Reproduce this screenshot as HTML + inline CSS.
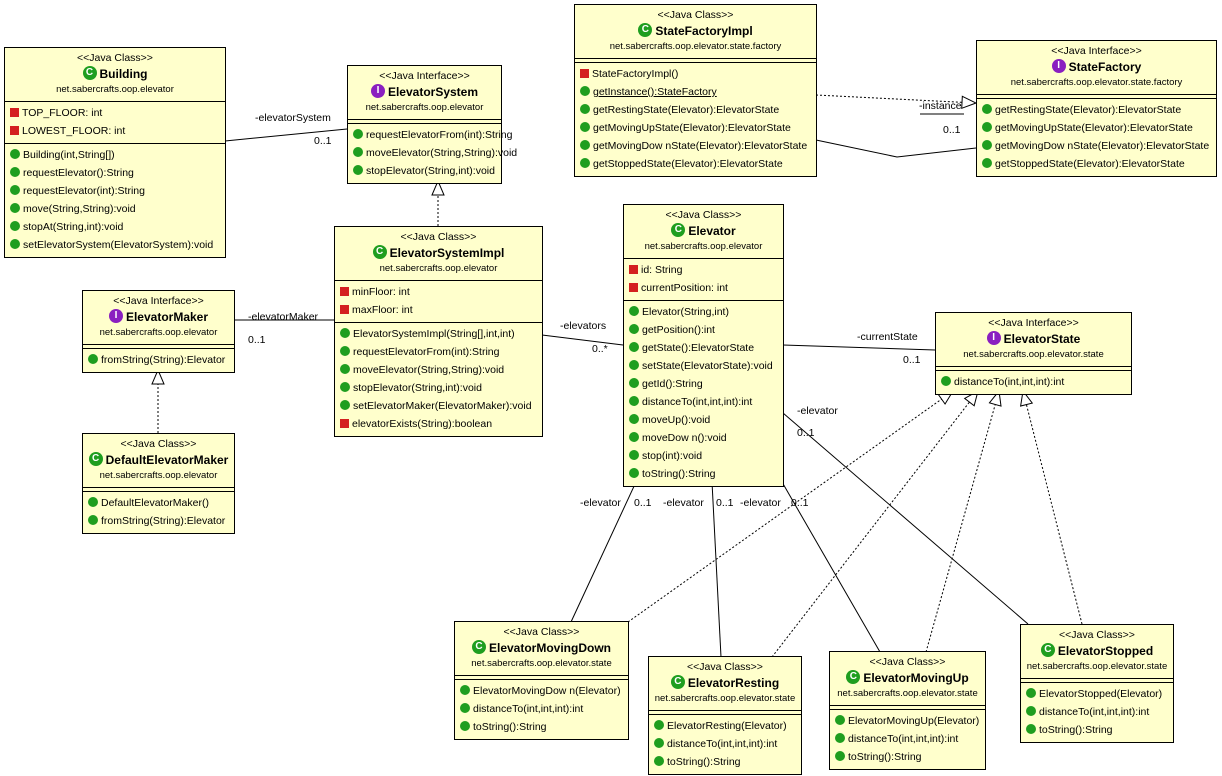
<!DOCTYPE html>
<html><head><meta charset="utf-8"><style>
body{margin:0;width:1222px;height:776px;background:#fff;position:relative;overflow:hidden;font-family:"Liberation Sans",sans-serif;}
.b{position:absolute;background:#ffffcc;border:1px solid #000;font-size:10.5px;color:#000;box-sizing:border-box;}
.h{text-align:center;padding:2px 0 3px;border-bottom:1px solid #000;}
.h div{height:16px;line-height:16px;white-space:nowrap;}
.h .n{font-weight:bold;font-size:12px;}
.h .p{font-size:9.5px;}
.s{padding:2px 0 3px;border-bottom:1px solid #000;}
.s:last-child{border-bottom:none;}
.e{height:3px;padding:0;}
.r{height:18px;line-height:18px;padding-left:5px;white-space:nowrap;}
.g,.q,.ic,.ii{display:inline-block;vertical-align:middle;margin-right:3px;}
.g{width:10px;height:10px;border-radius:50%;background:#1f9e1f;margin-top:-2px;}
.q{width:9px;height:9px;background:#d42020;margin-top:-2px;}
.ic,.ii{width:14px;height:14px;border-radius:50%;color:#fff;font-size:10px;line-height:14px;text-align:center;font-weight:bold;margin-top:-3px;}
.ic{background:#1f9e1f}.ii{background:#8a1fc0}
.l{position:absolute;font-size:10.5px;white-space:nowrap;}
</style></head><body>
<svg width="1222" height="776" style="position:absolute;left:0;top:0">
<defs><marker id="t" markerWidth="16" markerHeight="14" refX="15" refY="7" orient="auto" markerUnits="userSpaceOnUse"><path d="M1,1 L15,7 L1,13 Z" fill="#fff" stroke="#000"/></marker></defs>
<g stroke="#000" fill="none" stroke-width="1">
<line x1="225" y1="141" x2="347" y2="129"/>
<line x1="334" y1="320" x2="234" y2="320"/>
<line x1="542" y1="335" x2="623" y2="345"/>
<line x1="783" y1="345" x2="935" y2="350"/>
<polyline points="816,140 897,157 976,148"/>
<line x1="636" y1="482" x2="571" y2="622"/>
<line x1="712" y1="482" x2="721" y2="657"/>
<line x1="782" y1="482" x2="880" y2="652"/>
<line x1="783" y1="413" x2="1028" y2="624"/>
<g stroke-dasharray="2,2">
<line x1="438" y1="226" x2="438" y2="181" marker-end="url(#t)"/>
<line x1="158" y1="433" x2="158" y2="370" marker-end="url(#t)"/>
<line x1="816" y1="95" x2="976" y2="103" marker-end="url(#t)"/>
<line x1="628" y1="622" x2="953" y2="391" marker-end="url(#t)"/>
<line x1="772" y1="657" x2="978" y2="391" marker-end="url(#t)"/>
<line x1="926" y1="652" x2="999" y2="391" marker-end="url(#t)"/>
<line x1="1082" y1="624" x2="1023" y2="391" marker-end="url(#t)"/>
</g>
<line x1="920" y1="114" x2="964" y2="114"/>
</g></svg>

<div class="l" style="left:255px;top:112px">-elevatorSystem</div>
<div class="l" style="left:314px;top:135px">0..1</div>
<div class="l" style="left:248px;top:311px">-elevatorMaker</div>
<div class="l" style="left:248px;top:334px">0..1</div>
<div class="l" style="left:560px;top:320px">-elevators</div>
<div class="l" style="left:592px;top:343px">0..*</div>
<div class="l" style="left:857px;top:331px">-currentState</div>
<div class="l" style="left:903px;top:354px">0..1</div>
<div class="l" style="left:919px;top:100px">-instance</div>
<div class="l" style="left:943px;top:124px">0..1</div>
<div class="l" style="left:580px;top:497px">-elevator</div>
<div class="l" style="left:634px;top:497px">0..1</div>
<div class="l" style="left:663px;top:497px">-elevator</div>
<div class="l" style="left:716px;top:497px">0..1</div>
<div class="l" style="left:740px;top:497px">-elevator</div>
<div class="l" style="left:791px;top:497px">0..1</div>
<div class="l" style="left:797px;top:405px">-elevator</div>
<div class="l" style="left:797px;top:427px">0..1</div>

<div class="b" style="left:4px;top:47px;width:222px">
<div class="h"><div>&lt;&lt;Java Class&gt;&gt;</div><div class="n"><span class="ic">C</span>Building</div><div class="p">net.sabercrafts.oop.elevator</div></div>
<div class="s"><div class="r"><span class="q"></span>TOP_FLOOR: int</div><div class="r"><span class="q"></span>LOWEST_FLOOR: int</div></div>
<div class="s"><div class="r"><span class="g"></span>Building(int,String[])</div><div class="r"><span class="g"></span>requestElevator():String</div><div class="r"><span class="g"></span>requestElevator(int):String</div><div class="r"><span class="g"></span>move(String,String):void</div><div class="r"><span class="g"></span>stopAt(String,int):void</div><div class="r"><span class="g"></span>setElevatorSystem(ElevatorSystem):void</div></div>
</div>

<div class="b" style="left:347px;top:65px;width:155px">
<div class="h"><div>&lt;&lt;Java Interface&gt;&gt;</div><div class="n"><span class="ii">I</span>ElevatorSystem</div><div class="p">net.sabercrafts.oop.elevator</div></div>
<div class="s e"></div>
<div class="s"><div class="r"><span class="g"></span>requestElevatorFrom(int):String</div><div class="r"><span class="g"></span>moveElevator(String,String):void</div><div class="r"><span class="g"></span>stopElevator(String,int):void</div></div>
</div>

<div class="b" style="left:574px;top:4px;width:243px">
<div class="h"><div>&lt;&lt;Java Class&gt;&gt;</div><div class="n"><span class="ic">C</span>StateFactoryImpl</div><div class="p">net.sabercrafts.oop.elevator.state.factory</div></div>
<div class="s e"></div>
<div class="s"><div class="r"><span class="q"></span>StateFactoryImpl()</div><div class="r"><span class="g"></span><u>getInstance():StateFactory</u></div><div class="r"><span class="g"></span>getRestingState(Elevator):ElevatorState</div><div class="r"><span class="g"></span>getMovingUpState(Elevator):ElevatorState</div><div class="r"><span class="g"></span>getMovingDow nState(Elevator):ElevatorState</div><div class="r"><span class="g"></span>getStoppedState(Elevator):ElevatorState</div></div>
</div>

<div class="b" style="left:976px;top:40px;width:241px">
<div class="h"><div>&lt;&lt;Java Interface&gt;&gt;</div><div class="n"><span class="ii">I</span>StateFactory</div><div class="p">net.sabercrafts.oop.elevator.state.factory</div></div>
<div class="s e"></div>
<div class="s"><div class="r"><span class="g"></span>getRestingState(Elevator):ElevatorState</div><div class="r"><span class="g"></span>getMovingUpState(Elevator):ElevatorState</div><div class="r"><span class="g"></span>getMovingDow nState(Elevator):ElevatorState</div><div class="r"><span class="g"></span>getStoppedState(Elevator):ElevatorState</div></div>
</div>

<div class="b" style="left:334px;top:226px;width:209px">
<div class="h"><div>&lt;&lt;Java Class&gt;&gt;</div><div class="n"><span class="ic">C</span>ElevatorSystemImpl</div><div class="p">net.sabercrafts.oop.elevator</div></div>
<div class="s"><div class="r"><span class="q"></span>minFloor: int</div><div class="r"><span class="q"></span>maxFloor: int</div></div>
<div class="s"><div class="r"><span class="g"></span>ElevatorSystemImpl(String[],int,int)</div><div class="r"><span class="g"></span>requestElevatorFrom(int):String</div><div class="r"><span class="g"></span>moveElevator(String,String):void</div><div class="r"><span class="g"></span>stopElevator(String,int):void</div><div class="r"><span class="g"></span>setElevatorMaker(ElevatorMaker):void</div><div class="r"><span class="q"></span>elevatorExists(String):boolean</div></div>
</div>

<div class="b" style="left:82px;top:290px;width:153px">
<div class="h"><div>&lt;&lt;Java Interface&gt;&gt;</div><div class="n"><span class="ii">I</span>ElevatorMaker</div><div class="p">net.sabercrafts.oop.elevator</div></div>
<div class="s e"></div>
<div class="s"><div class="r"><span class="g"></span>fromString(String):Elevator</div></div>
</div>

<div class="b" style="left:82px;top:433px;width:153px">
<div class="h"><div>&lt;&lt;Java Class&gt;&gt;</div><div class="n"><span class="ic">C</span>DefaultElevatorMaker</div><div class="p">net.sabercrafts.oop.elevator</div></div>
<div class="s e"></div>
<div class="s"><div class="r"><span class="g"></span>DefaultElevatorMaker()</div><div class="r"><span class="g"></span>fromString(String):Elevator</div></div>
</div>

<div class="b" style="left:623px;top:204px;width:161px">
<div class="h"><div>&lt;&lt;Java Class&gt;&gt;</div><div class="n"><span class="ic">C</span>Elevator</div><div class="p">net.sabercrafts.oop.elevator</div></div>
<div class="s"><div class="r"><span class="q"></span>id: String</div><div class="r"><span class="q"></span>currentPosition: int</div></div>
<div class="s"><div class="r"><span class="g"></span>Elevator(String,int)</div><div class="r"><span class="g"></span>getPosition():int</div><div class="r"><span class="g"></span>getState():ElevatorState</div><div class="r"><span class="g"></span>setState(ElevatorState):void</div><div class="r"><span class="g"></span>getId():String</div><div class="r"><span class="g"></span>distanceTo(int,int,int):int</div><div class="r"><span class="g"></span>moveUp():void</div><div class="r"><span class="g"></span>moveDow n():void</div><div class="r"><span class="g"></span>stop(int):void</div><div class="r"><span class="g"></span>toString():String</div></div>
</div>

<div class="b" style="left:935px;top:312px;width:197px">
<div class="h"><div>&lt;&lt;Java Interface&gt;&gt;</div><div class="n"><span class="ii">I</span>ElevatorState</div><div class="p">net.sabercrafts.oop.elevator.state</div></div>
<div class="s e"></div>
<div class="s"><div class="r"><span class="g"></span>distanceTo(int,int,int):int</div></div>
</div>

<div class="b" style="left:454px;top:621px;width:175px">
<div class="h"><div>&lt;&lt;Java Class&gt;&gt;</div><div class="n"><span class="ic">C</span>ElevatorMovingDown</div><div class="p">net.sabercrafts.oop.elevator.state</div></div>
<div class="s e"></div>
<div class="s"><div class="r"><span class="g"></span>ElevatorMovingDow n(Elevator)</div><div class="r"><span class="g"></span>distanceTo(int,int,int):int</div><div class="r"><span class="g"></span>toString():String</div></div>
</div>

<div class="b" style="left:648px;top:656px;width:154px">
<div class="h"><div>&lt;&lt;Java Class&gt;&gt;</div><div class="n"><span class="ic">C</span>ElevatorResting</div><div class="p">net.sabercrafts.oop.elevator.state</div></div>
<div class="s e"></div>
<div class="s"><div class="r"><span class="g"></span>ElevatorResting(Elevator)</div><div class="r"><span class="g"></span>distanceTo(int,int,int):int</div><div class="r"><span class="g"></span>toString():String</div></div>
</div>

<div class="b" style="left:829px;top:651px;width:157px">
<div class="h"><div>&lt;&lt;Java Class&gt;&gt;</div><div class="n"><span class="ic">C</span>ElevatorMovingUp</div><div class="p">net.sabercrafts.oop.elevator.state</div></div>
<div class="s e"></div>
<div class="s"><div class="r"><span class="g"></span>ElevatorMovingUp(Elevator)</div><div class="r"><span class="g"></span>distanceTo(int,int,int):int</div><div class="r"><span class="g"></span>toString():String</div></div>
</div>

<div class="b" style="left:1020px;top:624px;width:154px">
<div class="h"><div>&lt;&lt;Java Class&gt;&gt;</div><div class="n"><span class="ic">C</span>ElevatorStopped</div><div class="p">net.sabercrafts.oop.elevator.state</div></div>
<div class="s e"></div>
<div class="s"><div class="r"><span class="g"></span>ElevatorStopped(Elevator)</div><div class="r"><span class="g"></span>distanceTo(int,int,int):int</div><div class="r"><span class="g"></span>toString():String</div></div>
</div>
</body></html>
